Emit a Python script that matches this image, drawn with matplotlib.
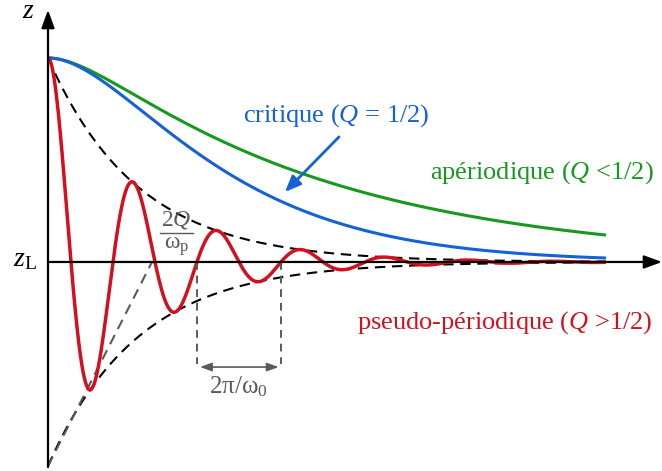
import numpy as np
import matplotlib
matplotlib.use("Agg")
import matplotlib.pyplot as plt

plt.rcParams["font.family"] = ["Liberation Serif", "DejaVu Serif"]
plt.rcParams["mathtext.fontset"] = "custom"
plt.rcParams["mathtext.rm"] = "Liberation Serif"
plt.rcParams["mathtext.it"] = "Liberation Serif:italic"

# ---- values (time unit = 10 px, z unit = start height) ----
T_END = 55.8            # all curves stop here
Z0 = 1.0                # initial offset above z_L
PSEUDO_PERIOD = 8.4     # 2 pi / omega_0 of the red curve
PSEUDO_TAU = 9.0        # decay time of the red curve / dashed envelope
CRIT_TAU = 9.5          # critical damping time constant (blue)
APER_TAUS = [25.5, 3.8]  # slow / fast time constants of the green curve
TANGENT_T = 10.4        # where the initial tangent of the envelope hits z_L

RED = "#d4101e"
BLUE = "#1462d6"
GREEN = "#16991c"
GREY = "#5a5a5a"

t = np.linspace(0, T_END, 1200)
w = 2 * np.pi / PSEUDO_PERIOD
envelope = Z0 * np.exp(-t / PSEUDO_TAU)
red = envelope * (np.cos(w * t) + np.sin(w * t) / (w * PSEUDO_TAU))
blue = Z0 * (1 + t / CRIT_TAU) * np.exp(-t / CRIT_TAU)
ts, tf = APER_TAUS
green = Z0 * (ts * np.exp(-t / ts) - tf * np.exp(-t / tf)) / (ts - tf)

fig = plt.figure(figsize=(6.62, 4.71), dpi=100)
ax = fig.add_axes([0, 0, 1, 1])
ax.set_xlim(-4.8, 61.4)
ax.set_ylim(-1.0245, 1.284)
ax.axis("off")

# axes with arrow heads
axis_kw = dict(arrowstyle="-|>,head_length=0.6,head_width=0.22", lw=1.6,
               color="black", mutation_scale=18, shrinkA=0, shrinkB=0)
ax.annotate("", xy=(0, 1.235), xytext=(0, -1.005), arrowprops=axis_kw)
ax.annotate("", xy=(61.4, 0), xytext=(0, 0), arrowprops=axis_kw)

# envelopes and tangent
dash = (0, (5, 3.2))
ax.plot(t, envelope, color="black", lw=1.5, ls=dash)
ax.plot(t, -envelope, color="black", lw=1.5, ls=dash)
ax.plot([0, TANGENT_T], [-Z0, 0], color=GREY, lw=1.5, ls=dash)

# the three regimes
ax.plot(t, green, color=GREEN, lw=2.2, solid_capstyle="butt")
ax.plot(t, blue, color=BLUE, lw=2.2, solid_capstyle="butt")
ax.plot(t, red, color=RED, lw=2.5, solid_capstyle="butt")

# pseudo-period marker between two rising zero crossings of the red curve
up = np.where((red[:-1] < 0) & (red[1:] >= 0))[0]
t1, t2 = t[up[1]], t[up[2]]
for tc in (t1, t2):
    ax.plot([tc, tc], [0, -0.5], color=GREY, lw=1.4, ls=(0, (4, 3)))
ax.annotate("", xy=(t2 - 0.2, -0.515), xytext=(t1 + 0.3, -0.515),
            arrowprops=dict(arrowstyle="<|-|>,head_length=0.5,head_width=0.18",
                            color=GREY, lw=1.2, mutation_scale=14,
                            shrinkA=0, shrinkB=0))
ax.text((t1 + t2) / 2, -0.61, r"$\mathrm{2π/ω}_0$", color=GREY, fontsize=18,
        ha="center", va="center")

# 2Q / omega_p written as a stacked fraction
ax.text(12.85, 0.205, r"2$Q$", color=GREY, fontsize=17, ha="center",
        va="center")
ax.plot([11.2, 14.5], [0.142, 0.142], color=GREY, lw=1.0)
ax.text(12.85, 0.078, r"$\mathrm{ω}_\mathrm{p}$", color=GREY, fontsize=17,
        ha="center", va="center")

# labels
ax.text(-2.0, 1.23, r"$z$", fontsize=20, ha="center", va="center")
ax.text(-1.1, 0.012, r"$z_\mathrm{L}$", fontsize=20, ha="right", va="center")
ax.text(19.5, 0.69, r"critique ($Q$ = 1/2)", color=BLUE, fontsize=19,
        ha="left", va="baseline")
ax.text(38.2, 0.41, r"apériodique ($Q$ <1/2)", color=GREEN, fontsize=19,
        ha="left", va="baseline")
ax.text(30.9, -0.328, r"pseudo-périodique ($Q$ >1/2)", color=RED,
        fontsize=19, ha="left", va="baseline")
ax.annotate("", xy=(23.7, 0.343), xytext=(29.1, 0.613),
            arrowprops=dict(arrowstyle="-|>,head_length=0.6,head_width=0.25",
                            color=BLUE, lw=2.0, mutation_scale=16,
                            shrinkA=0, shrinkB=0))

fig.savefig("out.png", dpi=100, facecolor="white")
